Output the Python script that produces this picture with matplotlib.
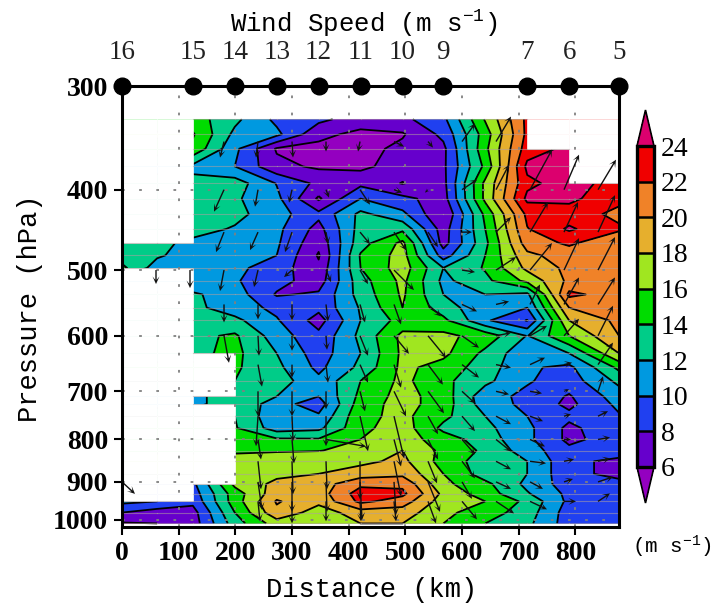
"""Cross section of wind speed against distance and pressure."""

import matplotlib
matplotlib.use("Agg")
import matplotlib.pyplot as plt
import numpy as np
import pandas as pd
from matplotlib.colors import BoundaryNorm, ListedColormap
from matplotlib.patches import Rectangle

N = np.nan

plt.rcParams["font.family"] = "Liberation Mono"
plt.rcParams["mathtext.fontset"] = "custom"
plt.rcParams["mathtext.rm"] = "Liberation Mono"
plt.rcParams["mathtext.default"] = "rm"

distance = [0, 62, 125, 199, 273, 347, 421, 495, 567, 641, 715, 789, 877]
pressure = [329, 343, 357, 375, 393, 410, 428, 446, 464, 480, 497, 515, 535, 555, 575, 600,
            630, 655, 680, 710, 725, 750, 775, 800, 825, 850, 880, 905, 930, 950, 980, 1010]

# wind speed (m/s), one list per distance, pressure going down
col_0 = [N, N, N, N, N, N, N, N, 12.5, 13, 14.5] + [N] * 18 + [10.5, 8, 5.8]
col_62 = [N, N, N, N, N, N, N, N, 12.5, 12.3, 11] + [N] * 18 + [10, 7, 6]
col_125 = [15, 16.2, 15.5, 11.5, 12.6, 13, 12.2, 12.8, 11.5, 11, 10.8, 10.5, 12.3, 12.5, 13, 13.5,
           13.5, N, N, 11, 11, N, N, N, N, N, N, 9.5, 9, 8.5, 7.2, 7]
col_199 = [12.5, 11.5, 10.5, 10, 13, 12.3, 12.6, 11.8, 11, 11, 10.5, 10.2, 11, 11, 12.5, 14.3,
           14.5, 14.3, 14, 14, 14, 14, 14.2, 15, 15.8, 16.5, 17, 16.5, 15, 15, 14, 13]
col_273 = [9.5, 10.5, 5.8, 6.5, 9.9, 10.5, 10.8, 10.5, 10.3, 10, 9, 8.7, 7.8, 9.5, 10.2, 11,
           12, 12.5, 13, 12, 10.8, 10.5, 11, 14.3, 15.9, 16.6, 17.5, 18.5, 19.2, 20.2, 19.5, 17]
col_347 = [8.5, 6.5, 5.5, 5.7, 7.5, 5.7, 8.5, 7.3, 6.5, 5.8, 6.4, 7, 8.3, 8.5, 7.2, 8.5,
           9, 9.5, 10.5, 10, 9, 10.3, 11.5, 14.2, 15.9, 17.8, 18, 19, 19, 18.5, 17, 17.5]
col_421 = [7, 5.5, 5.3, 5.5, 7.5, 10, 12.5, 12.8, 13.2, 14.2, 14, 13.2, 12.8, 12.2, 12, 12.5,
           12, 12.5, 14, 14.5, 15, 15.5, 15.5, 16, 16.8, 17.5, 19, 21.5, 23, 22.5, 19, 18]
col_495 = [7.5, 5.8, 6.5, 7, 5.9, 8.5, 10.5, 13.5, 16.5, 16.8, 17, 16.5, 16.3, 16, 14.8, 16.5,
           16.4, 16.5, 16.5, 16.8, 16.8, 16.5, 17, 17, 18, 18.5, 19.5, 21.5, 22.5, 21, 19, 18]
col_567 = [9.5, 8.5, 7.5, 7.6, 7.4, 7.1, 6, 7, 7.2, 9, 12, 11.5, 12, 13, 14.5, 16.5,
           16.5, 15.2, 14.5, 15, 15, 14.5, 13.5, 15, 15.5, 15.2, 16, 16.5, 17.5, 17, 16.5, 16]
col_641 = [16.2, 15, 15.5, 14.5, 16.5, 16.5, 14.5, 14, 13.5, 14, 14.2, 13.5, 12, 10.5, 10.3, 15.2,
           13.5, 13, 12.5, 10.8, 11, 12, 12.5, 13, 13.6, 13, 13, 14.5, 15, 16, 15, 14]
col_715 = [22.5, 22.5, 23, 24.5, 23.5, 24.5, 22.5, 21.9, 21, 19.5, 18.5, 16.5, 11.5, 10, 7.9, 11.9,
           10.5, 10.3, 10.2, 9.5, 9.5, 10, 10.5, 10.5, 11, 12, 12, 11.5, 12.2, 13.5, 13, 12.5]
col_789 = [N, N, 24.5, 24.8, 25, 24.5, 23, 24.3, 22.3, 21, 20.5, 20.5, 22.5, 20, 18, 16,
           12, 9.5, 9, 7.8, 7.5, 8.5, 7.5, 7.5, 8.5, 8.5, 8.5, 9, 9.5, 9.5, 9, 9]
col_877 = [N, N, N, N, 23, 22.5, 21.5, 22.3, 20.5, 20, 20, 20.5, 21, 21, 20.5, 20,
           18, 14.5, 12.5, 11, 10.5, 9.8, 9.6, 9, 9, 7.5, 7.5, 8.5, 8.5, 9, 9.5, 9]

levels = [6, 8, 10, 12, 14, 16, 18, 20, 22, 24]
colors = ["#9400C0", "#6600CC", "#2040F0", "#0099E0", "#00CC88", "#00DC00",
          "#A0E620", "#E6AF2D", "#F08228", "#F00000", "#DC006E"]

# wind vectors (m/s): rows are pressure, columns are distance
arrow_x = [0, 60, 120, 180, 240, 300, 360, 420, 480, 540, 600, 660, 720, 780, 840]
arrow_p = [350, 400, 450, 500, 550, 600, 650, 700, 750, 800, 850, 900, 950]
arrow_u = [
    [N, N, N, -2, -1, 0.5, 0, -1, 5, 2.5, 6.5, 7.5, N, N, N],
    [N, N, N, -5, -1.5, -1.5, 1.5, 5, 4, -1.5, 7.5, 6.5, 11, 7.5, 9],
    [N, N, N, -4, -4, -3.5, 1, 5, 6, 5, 5, 7.5, 9, 7, 8.5],
    [N, 0, 0, -2, -2, -4, 2.5, 4, 10, N, 6.5, 10, 11, 7.5, 8.5],
    [N, N, N, 0, 0, 0, 1, 2.5, 3.5, 6.5, 7.5, 6.5, 5, 7.5, 8.5],
    [N, N, N, 2.5, 0.5, 0, 0.5, 4, 7.5, 9, 8.5, 7.5, 8.5, 7.5, 7.5],
    [N, N, N, N, 2, 0, 1, 4, 3.5, 7.5, 8.5, 7.5, 7.5, 4, 7.5],
    [N, N, N, N, 0, 0, 0, 2.5, 6, 8, 6.5, 6.5, 6, 2.5, 2.5],
    [N, N, N, N, -1, 0.5, 0, 4, 5, 5, 6.5, 7.5, 6.5, 3.5, 5],
    [N, N, N, N, 1.5, 1, 20, N, 3.5, 5, 6.5, 7.5, 7.5, 3.5, 6],
    [N, N, N, N, 1.5, 0.5, 0.5, 0, 3.5, 4.5, 6.5, 7.5, 8, 5, 6],
    [6.5, N, N, N, 2, 0, 0.5, 1, 1, 6, 5, 7.5, 6.5, 4.5, 7.5],
    [N, N, N, N, 1, 0, 0, 0.5, 1, 4, 7.5, 9, 8.5, 6, 6],
]
arrow_v = [
    [N, N, N, -8, -8, -8, -5, -5, -2.5, -3, 9, 12.5, N, N, N],
    [N, N, N, -11, -8.5, -6.5, -4, -7.5, -1.5, -1.5, 5, 12.5, 20, 17.5, 15],
    [N, N, N, -10, -9, -10, -6, -6, -9, -7.5, 0, 7.5, 15, 15, 18.5],
    [N, -7, -9, -10.5, -8.5, -3.5, -6, -7, -10, N, -1, 6.5, 13.5, 16, 16.5],
    [N, N, N, -9, -7.5, -8, -8.5, -9, -10, -6, -3.5, 1.5, 10, 13.5, 13.5],
    [N, N, N, -13.5, -10, -7.5, -7, -10, -9, -11, -6, 1.5, 5, 8.5, 15],
    [N, N, N, N, -11, -6.5, -9, -9, -11.5, -10, -6.5, -1.5, 3.5, 1, 11],
    [N, N, N, N, -12.5, -12.5, -9, -10, -12.5, -11, -6, -1.5, -1, 1, 7.5],
    [N, N, N, N, -15, -12.5, -15, -17.5, -21, -9, -7.5, -4, -2.5, 1, 2.5],
    [N, N, N, N, -10, -12, -3.5, N, -13.5, -10, -7.5, -6, -3.5, 0, 1],
    [N, N, N, N, -14, -16.5, -14, -19, -17.5, -11, -8.5, -4, -1, 1, 1.5],
    [-6, N, N, N, -14, -15, -15, -19, -16.5, -15, -8.5, -3.5, -3.5, 1.5, 2.5],
    [N, N, N, N, -10, -11, -10, -10, -10, -11, -9, -6, -4, 0, 4],
]

speed_x = [0, 125, 199, 273, 347, 421, 495, 567, 715, 789, 877]
speed_labels = ["16", "15", "14", "13", "12", "11", "10", "9", "7", "6", "5"]

x_ticks = [0, 100, 200, 300, 400, 500, 600, 700, 800]
y_ticks = [300, 400, 500, 600, 700, 800, 900, 1000]

field = np.column_stack([col_0, col_62, col_125, col_199, col_273, col_347, col_421,
                         col_495, col_567, col_641, col_715, col_789, col_877])
# gaps get the next column's value so the contours run on, then get covered in white
filled = pd.DataFrame(field).ffill(axis=1).bfill(axis=1).to_numpy()
W, H = 718, 607

fig = plt.figure(figsize=(W / 100, H / 100), dpi=100)
ax = fig.add_axes([122 / W, 1 - 527 / H, (619 - 122) / W, (527 - 86) / H])
ax.set_yscale("log")

cmap = ListedColormap(colors[1:-1])
cmap.set_under(colors[0])
cmap.set_over(colors[-1])
norm = BoundaryNorm(levels, cmap.N)

cf = ax.contourf(distance, pressure, filled, levels=levels, cmap=cmap, norm=norm,
                 extend="both", zorder=1)
ax.contour(distance, pressure, filled, levels=levels, colors="black", linewidths=1.3, zorder=2)

# cells with a missing corner stay white
for i in range(len(pressure) - 1):
    for j in range(len(distance) - 1):
        if np.isnan(field[i:i + 2, j:j + 2]).any():
            ax.add_patch(Rectangle((distance[j], pressure[i]), distance[j + 1] - distance[j],
                                   pressure[i + 1] - pressure[i], fc="white", ec="white",
                                   lw=0.5, zorder=2.2))

# the pale stripes along each data row
for i, p in enumerate(pressure):
    for j in range(len(distance) - 1):
        if np.isfinite(field[i, j]) and np.isfinite(field[i, j + 1]):
            ax.plot(distance[j:j + 2], [p, p], color="#b0a0a0", lw=0.8, alpha=0.55, zorder=2.5)

ax.quiver(arrow_x, arrow_p, np.array(arrow_u), np.array(arrow_v), angles="uv", pivot="tail",
          scale_units="dots", scale=0.5, units="dots", width=1.4, headwidth=5,
          headlength=5.5, headaxislength=3, color="#111111", zorder=3)

ax.set_xlim(0, 877)
ax.set_ylim(1020, 300)
ax.minorticks_off()
ax.set_yticks(y_ticks)
ax.set_yticklabels([str(t) for t in y_ticks])
ax.set_xticks(x_ticks)
ax.set_xticklabels([str(t) for t in x_ticks])
ax.tick_params(length=6, width=1.5, pad=4)
for label in ax.get_xticklabels() + ax.get_yticklabels():
    label.set_family("Liberation Serif")
    label.set_fontsize(20)
    label.set_fontweight("bold")

ax.grid(True, color="#808080", lw=1.3, linestyle=(0, (1.5, 8)), zorder=2.8)
ax.set_axisbelow(False)
for spine in ax.spines.values():
    spine.set_linewidth(2.2)
    spine.set_zorder(5)

ax.plot(speed_x, [300] * len(speed_x), "o", color="black", ms=12, clip_on=False, zorder=6)
for x, label in zip(speed_x, speed_labels):
    ax.annotate(label, (x, 300), xytext=(0, 15), textcoords="offset points", ha="center",
                va="bottom", family="Liberation Serif", fontsize=19.5, color="#222222")

fig.text(364 / W, 1 - 24 / H, r"Wind Speed (m s$^{-1}$)", ha="center", va="center", fontsize=18.5)
fig.text(372 / W, 1 - 590 / H, "Distance (km)", ha="center", va="center", fontsize=19.5)
fig.text(30 / W, 1 - 308 / H, "Pressure (hPa)", ha="center", va="center", rotation=90, fontsize=19.5)
fig.text(672 / W, 1 - 547 / H, r"(m s$^{-1}$)", ha="center", va="center", fontsize=15)

# colour bar with pointed ends, the axes shrink to the boxes when drawn
cax = fig.add_axes([637 / W, 1 - 503 / H, 17 / W, (503 - 110) / H])
frac = 36 / 321
cb = fig.colorbar(cf, cax=cax, extend="both", extendfrac=[frac, frac], drawedges=True)
cb.dividers.set_color("black")
cb.dividers.set_linewidth(1.8)
cb.outline.set_linewidth(1.2)
cb.set_ticks(levels)
cb.ax.minorticks_off()
cb.ax.tick_params(length=0, pad=5)
for label in cb.ax.get_yticklabels():
    label.set_family("Liberation Serif")
    label.set_fontsize(20)
cax.add_patch(Rectangle((0, 0), 1, 1, transform=cax.transAxes, fill=False, ec="black", lw=2.4,
                        clip_on=False, zorder=5))

fig.savefig("out.png", dpi=100)
plt.close(fig)
